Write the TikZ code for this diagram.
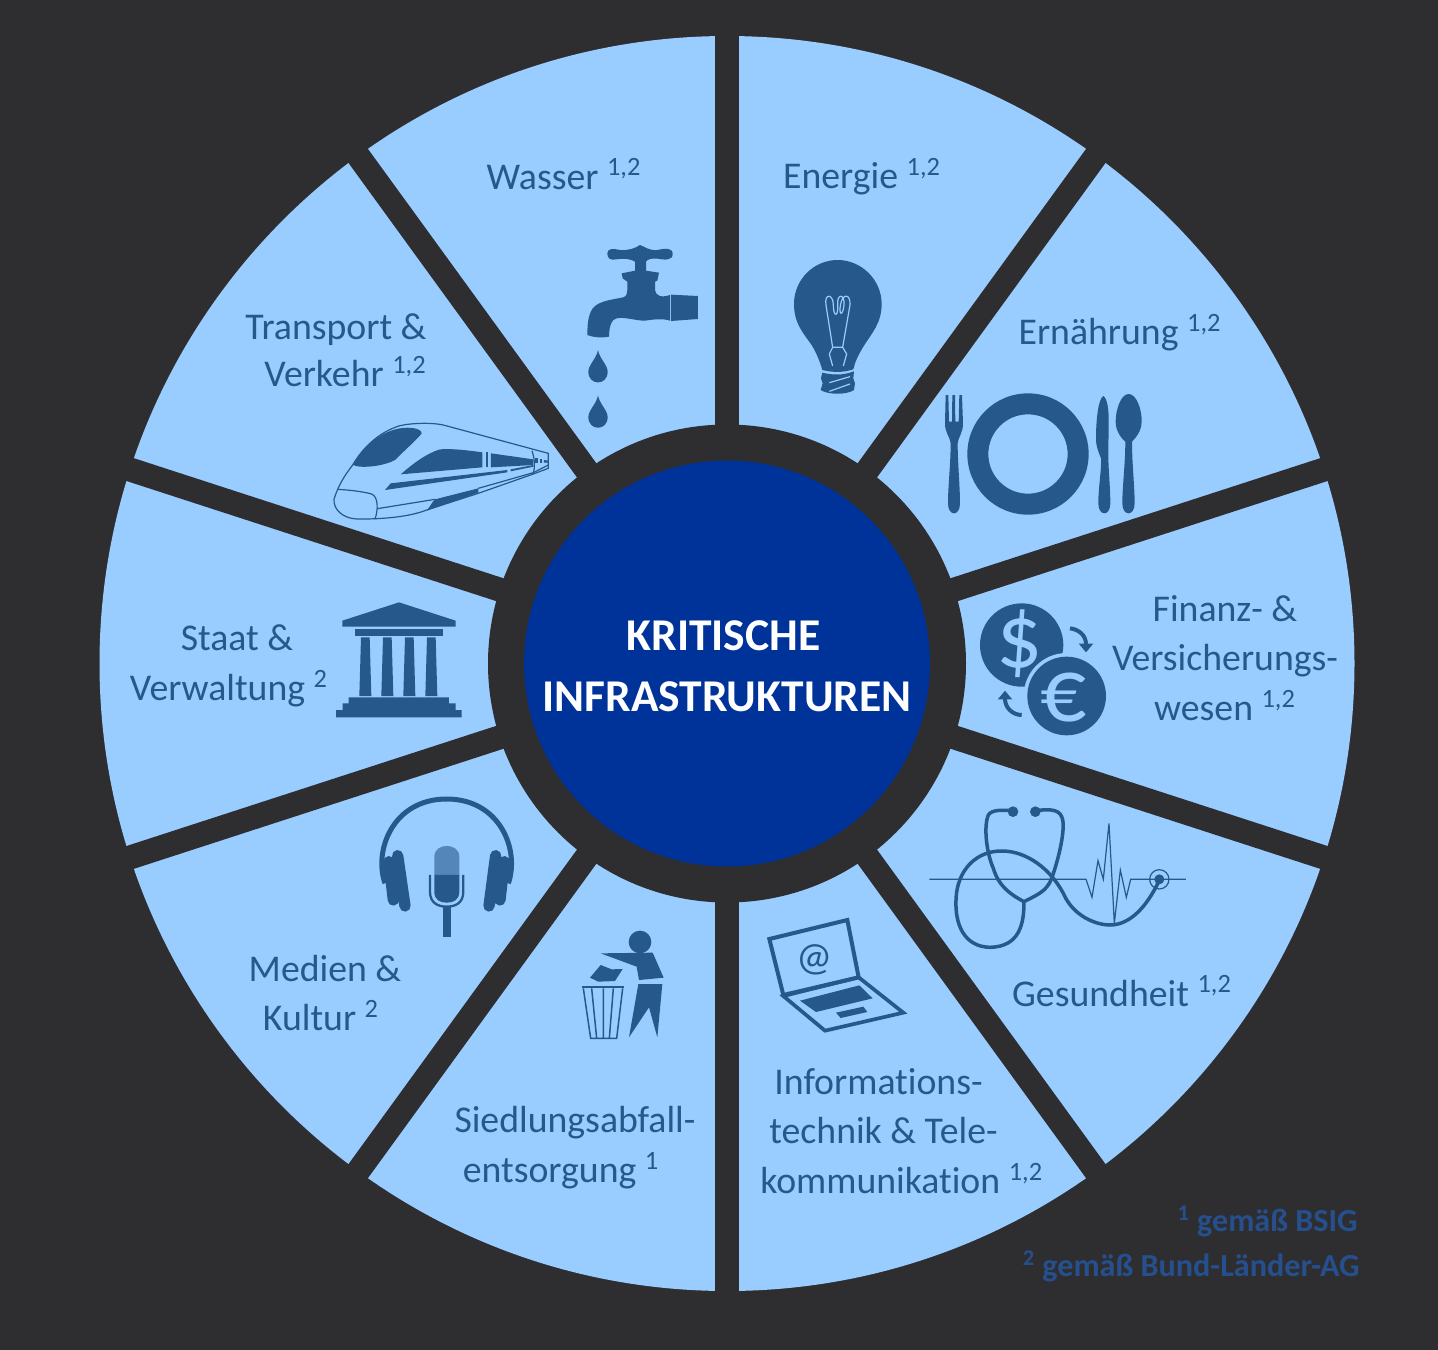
\documentclass[tikz,border=0pt]{standalone}
\usepackage{xcolor}
\usepackage{fontspec}
\setmainfont[Ligatures={TeX,NoCommon}]{Carlito}
\usepackage{tikz}
\usetikzlibrary{arrows.meta,positioning}

\definecolor{bgdark}{HTML}{2E2E30}
\definecolor{sectorblue}{HTML}{99CCFF}
\definecolor{icondark}{HTML}{26588C}
\definecolor{hubblue}{HTML}{003399}
\definecolor{notedark}{HTML}{264F8E}

\begin{document}
\begin{tikzpicture}[
      x=0.02cm, y=-0.02cm,
      spoke/.style={bgdark, line width=0.48cm},
      sector/.style={font=\fontsize{21.5}{28.35}\selectfont, text=icondark, align=center, inner sep=0pt},
      note/.style={font=\fontsize{18.3}{21}\selectfont\bfseries, text=notedark, inner sep=0pt},
      icon/.style={x=0.006667cm, y=-0.006667cm},
      solid ink/.style={fill=icondark},
      thin ink/.style={draw=icondark, line width=0.024cm},
      tube/.style={draw=icondark, line width=0.07cm, line cap=round},
      glint/.style={draw=sectorblue, line width=0.024cm}
    ]
    \fill[bgdark] (0,0) rectangle (1438,1350);
    \coordinate (centre) at (727,663.5);

    % disc and spokes
    \fill[sectorblue] (centre) circle[radius=627.5];
    \foreach \a in {90,54,18,-18,-54} {
      \draw[spoke] ([shift={(\a:645)}]centre) -- ([shift={(\a+180:645)}]centre);
    }
    \fill[bgdark] (centre) circle[radius=239];
    \node[circle, fill=hubblue, minimum size=8.12cm, inner sep=0pt] (hub) at (centre) {};
    \node[text=white, align=center, inner sep=0pt,
      font=\fontsize{25.9}{35}\selectfont\bfseries] (hubtext) at (727,666)
      {KRITISCHE\hspace*{0.14cm}\\INFRASTRUKTUREN};

    % labels
    \node[sector] (wasser) at (564,174) {Wasser \textsuperscript{1,2}};
    \node[sector] (energie) at (862,177) {Energie \textsuperscript{1,2}};
    \node[sector] (ernaehrung) at (1120,333) {Ernährung \textsuperscript{1,2}};
    \node[sector] (finanz) at (1225,658) {Finanz- \&\\Versicherungs-\\wesen \textsuperscript{1,2}};
    \node[sector] (gesundheit) at (1122,991) {Gesundheit \textsuperscript{1,2}};
    \node[sector, align=left, anchor=west] (it) at (760,1131) {\hspace*{0.28cm}Informations-\\\hspace*{0.18cm}technik \& Tele-\\kommunikation \textsuperscript{1,2}};
    \node[sector] (abfall) at (575,1148) {Siedlungsabfall-\\entsorgung \textsuperscript{1}\hspace*{0.56cm}};
    \node[sector] (medien) at (325,993) {Medien \&\\Kultur \textsuperscript{2}\hspace*{0.16cm}};
    \node[sector] (staat) at (229,666) {\hspace*{0.32cm}Staat \&\\Verwaltung \textsuperscript{2}};
    \node[sector, align=right] (transport) at (336,350) {Transport \&\\[-0.05cm]Verkehr \textsuperscript{1,2}};
    \node[note, anchor=east] (bsig) at (1358,1221) {\textsuperscript{1} gemäß BSIG};
    \node[note, anchor=east] (bund) at (1360,1266) {\textsuperscript{2} gemäß Bund-Länder-AG};

    % faucet and bulb
    \begin{scope}[shift={(570,230)}, icon]
      \fill[solid ink] (210,45) .. controls (225,50) and (235,62) .. (262,60) .. controls (285,55) and (308,52) .. (308,72)
        .. controls (308,92) and (285,90) .. (262,86) .. controls (245,84) and (232,88) .. (228,95) -- (228,122) -- (267,128)
        -- (262,152) -- (255,155) -- (255,180) .. controls (257,195) and (270,205) .. (300,195) -- (300,272)
        .. controls (280,265) and (250,268) .. (225,272) .. controls (195,272) and (165,260) .. (140,265)
        .. controls (125,268) and (118,285) .. (117,320) .. controls (95,325) and (70,322) .. (52,315)
        .. controls (52,280) and (55,245) .. (75,228) .. controls (95,212) and (130,208) .. (160,202)
        .. controls (170,198) and (172,190) .. (172,180) -- (172,155) -- (158,145) -- (155,130) -- (195,122) -- (195,95)
        .. controls (185,88) and (165,84) .. (140,88) .. controls (120,92) and (112,85) .. (112,70)
        .. controls (112,55) and (130,55) .. (150,60) .. controls (175,62) and (195,55) .. (210,45) -- cycle;
      \fill[solid ink] (303,194) -- (384,198) -- (384,267) -- (303,273) -- cycle;
      \foreach \d in {0,136} {
        \fill[solid ink] (84,360+\d) .. controls (80,385+\d) and (55,405+\d) .. (55,425+\d)
          .. controls (55,468+\d) and (113,468+\d) .. (113,425+\d) .. controls (113,405+\d) and (88,385+\d) .. (84,360+\d) -- cycle;
      }
      \fill[solid ink] (803,90) .. controls (875,90) and (935,150) .. (935,222) .. controls (935,280) and (905,310) .. (880,350)
        .. controls (865,375) and (855,395) .. (850,418) .. controls (820,428) and (790,428) .. (757,420)
        .. controls (750,395) and (740,370) .. (725,345) .. controls (700,310) and (672,280) .. (672,222)
        .. controls (672,150) and (730,90) .. (803,90) -- cycle;
      \fill[solid ink] (757,428) .. controls (790,436) and (820,436) .. (852,424) -- (850,445) -- (855,460) -- (852,480)
        .. controls (830,495) and (775,495) .. (752,480) -- (758,460) -- (753,445) -- cycle;
      \draw[glint] (778,458) -- (840,440) (778,484) -- (840,462);
      \draw[glint] (788,352) -- (768,225) .. controls (762,190) and (790,190) .. (790,225)
        .. controls (790,262) and (806,262) .. (803,225) .. controls (800,190) and (825,190) .. (822,225)
        .. controls (818,262) and (805,255) .. (812,222) .. controls (818,190) and (842,190) .. (840,225) -- (818,352);
      \draw[glint] (788,408) -- (778,372) -- (788,352) -- (818,352) -- (830,372) -- (820,408);
    \end{scope}

    % cutlery
    \begin{scope}[shift={(930,380)}, icon]
      \fill[solid ink, even odd rule] (294,222) circle[radius=182] (294,222) circle[radius=119];
      \fill[solid ink] (47,45) -- (55,45) -- (57,125) -- (66,125) -- (67,45) -- (75,45) -- (76,125) -- (86,125) -- (88,45) -- (96,45)
        -- (99,130) .. controls (99,160) and (85,170) .. (83,190) .. controls (83,250) and (90,320) .. (90,370)
        .. controls (90,410) and (54,410) .. (54,370) .. controls (54,320) and (62,250) .. (62,190)
        .. controls (60,170) and (45,160) .. (45,130) -- cycle;
      \fill[solid ink] (520,48) .. controls (532,55) and (537,90) .. (536,130) -- (535,225) .. controls (535,270) and (541,320) .. (541,370)
        .. controls (541,410) and (505,410) .. (505,370) .. controls (505,320) and (515,270) .. (513,235)
        .. controls (505,215) and (498,200) .. (498,175) .. controls (498,120) and (505,55) .. (520,48) -- cycle;
      \fill[solid ink] (596,42) .. controls (620,42) and (636,90) .. (635,125) .. controls (635,155) and (615,175) .. (606,185)
        .. controls (606,250) and (614,320) .. (614,370) .. controls (614,410) and (577,410) .. (577,370)
        .. controls (577,320) and (586,250) .. (586,185) .. controls (575,175) and (557,155) .. (557,125)
        .. controls (557,90) and (572,42) .. (596,42) -- cycle;
    \end{scope}

    % train
    \begin{scope}[shift={(320,410)}, icon]
      \draw[thin ink] (42,268) .. controls (55,225) and (75,195) .. (98,165) .. controls (130,110) and (180,65) .. (240,47)
        .. controls (280,38) and (340,38) .. (370,45) -- (685,130) -- (685,175) -- (640,192) -- (475,250) -- (320,300)
        .. controls (270,320) and (190,328) .. (110,327) .. controls (70,325) and (40,300) .. (42,268) -- cycle;
      \fill[solid ink] (98,165) .. controls (130,110) and (180,65) .. (240,55) .. controls (270,50) and (305,55) .. (305,70)
        .. controls (295,85) and (260,115) .. (225,150) .. controls (200,165) and (130,178) .. (98,165) -- cycle;
      \fill[solid ink] (242,193) .. controls (280,160) and (320,130) .. (360,118) .. controls (400,115) and (450,122) .. (487,127) -- (487,172) -- cycle;
      \fill[solid ink] (497,125) -- (505,125) -- (505,172) -- (497,172) -- cycle;
      \fill[solid ink] (513,130) -- (640,148) -- (640,165) -- (513,172) -- cycle;
      \fill[solid ink] (645,145) -- (655,145) -- (655,158) -- (645,158) -- cycle;
      \fill[solid ink] (660,148) -- (667,148) -- (667,158) -- (660,158) -- cycle;
      \fill[solid ink] (672,150) -- (685,152) -- (685,158) -- (672,158) -- cycle;
      \fill[solid ink] (212,220) -- (562,180) -- (562,187) -- (195,240) -- cycle;
      \fill[solid ink] (572,178) -- (640,165) -- (640,170) -- (572,184) -- cycle;
      \fill[solid ink] (345,268) -- (475,235) -- (475,248) -- (320,302) .. controls (330,290) and (335,278) .. (345,268) -- cycle;
      \draw[thin ink] (52,238) .. controls (90,240) and (130,245) .. (155,252) .. controls (175,260) and (175,300) .. (165,327);
      \draw[thin ink] (172,296) -- (345,268) (475,235) -- (640,188) -- (685,165);
      \draw[thin ink] (636,122) .. controls (645,150) and (645,170) .. (640,192);
    \end{scope}

    % money
    \begin{scope}[shift={(970,590)}, icon]
      \fill[solid ink] (155,165) circle[radius=125];
      \fill[sectorblue] (290,318) circle[radius=129];
      \fill[solid ink] (290,318) circle[radius=118];
      \node[text=sectorblue, inner sep=0pt, font=\fontsize{52}{52}\selectfont] (dollar) at (150,160) {\$};
      \node[text=sectorblue, inner sep=0pt, font=\fontsize{52}{52}\selectfont] (euro) at (282,322) {€};
      \draw[icondark, line width=0.08cm, -{Triangle[length=5pt, width=8pt]}] (300,115) .. controls (325,118) and (348,135) .. (348,187);
      \draw[icondark, line width=0.08cm, -{Triangle[length=5pt, width=8pt]}] (155,375) .. controls (130,375) and (105,355) .. (105,302);
    \end{scope}

    % stethoscope
    \begin{scope}[shift={(920,790)}, icon]
      \draw[thin ink] (28,268) -- (498,268) -- (516,322) -- (534,212) -- (550,268) -- (567,100) -- (583,400) -- (601,240) -- (619,322) -- (632,268) -- (798,268);
      \fill[solid ink] (279,65) circle[radius=16] (346,65) circle[radius=16];
      \draw[tube] (279,62) .. controls (250,60) and (215,58) .. (205,75) .. controls (190,110) and (200,190) .. (220,235)
        .. controls (235,285) and (265,310) .. (312,335) .. controls (350,315) and (380,305) .. (395,265)
        .. controls (415,210) and (440,110) .. (425,80) .. controls (415,55) and (380,58) .. (346,62);
      \draw[tube] (312,335) .. controls (312,400) and (300,470) .. (210,472) .. controls (130,470) and (105,400) .. (108,330)
        .. controls (110,240) and (170,180) .. (250,183) .. controls (320,185) and (390,235) .. (430,310)
        .. controls (460,380) and (530,405) .. (570,405) .. controls (630,405) and (680,350) .. (716,275);
      \draw[thin ink] (718,268) circle[radius=29];
      \fill[solid ink] (718,268) circle[radius=15];
    \end{scope}

    % bin and laptop
    \begin{scope}[shift={(570,910)}, icon]
      \fill[solid ink] (210,96) circle[radius=34];
      \fill[solid ink] (92,130) -- (248,128) -- (281,203) -- (207,210) -- (200,170) -- cycle;
      \fill[solid ink] (205,222) -- (277,222) -- (262,382) -- (237,292) -- (177,382) -- cycle;
      \fill[solid ink] (60,203) -- (92,165) -- (125,178) -- (158,177) -- (135,213) -- (85,215) -- cycle;
      \draw[icondark, line width=0.034cm] (35,232) -- (162,232);
      \draw[icondark, line width=0.03cm] (40,235) -- (62,385) -- (140,385) -- (158,235)
        (65,235) -- (80,385) (100,235) -- (100,385) (130,235) -- (118,385);
      \draw[icondark, line width=0.08cm] (598,87) -- (832,30) -- (866,202) -- (640,255) -- cycle;
      \draw[icondark, line width=0.074cm] (640,258) -- (866,202) -- (1000,308) -- (765,362) -- cycle;
      \fill[solid ink] (690,272) -- (868,226) -- (908,265) -- (738,306) -- cycle;
      \fill[solid ink] (798,308) -- (880,290) -- (892,306) -- (812,324) -- cycle;
      \node[text=icondark, inner sep=0pt, font=\fontsize{23}{23}\selectfont] (atsign) at (733,148) {@};
    \end{scope}

    % temple and headphones
    \begin{scope}[shift={(330,590)}, icon]
      \fill[solid ink] (37,92) -- (207,37) -- (377,92) -- (377,110) -- (37,110) -- cycle;
      \fill[solid ink] (75,117) rectangle (338,137);
      \foreach \c in {106,172,238,304} {
        \fill[solid ink] (\c-13,142) -- (\c+13,142) -- (\c+18,318) -- (\c-18,318) -- cycle;
      }
      \fill[solid ink] (56,322) -- (357,322) -- (357,340) -- (377,340) -- (377,360) -- (395,360) -- (395,382)
        -- (18,382) -- (18,360) -- (38,360) -- (38,340) -- (56,340) -- cycle;
      \draw[icondark, line width=0.1cm] (165,880) .. controls (130,780) and (190,627) .. (350,627)
        .. controls (510,627) and (570,780) .. (535,880);
      \draw[icondark, line width=0.226cm, line cap=round] (203,797) -- (225,948) (177,815) -- (190,930)
        (497,797) -- (477,948) (523,815) -- (510,930);
      \fill[icondark!60!sectorblue] (313,855) -- (313,800) .. controls (313,757) and (388,757) .. (388,800) -- (388,855) -- cycle;
      \fill[solid ink] (313,855) -- (388,855) -- (388,905) .. controls (388,930) and (370,938) .. (350,938)
        .. controls (330,938) and (313,930) .. (313,905) -- cycle;
      \draw[icondark, line width=0.046cm] (300,855) -- (300,905) .. controls (300,940) and (325,950) .. (350,950)
        .. controls (375,950) and (400,940) .. (400,905) -- (400,855);
      \fill[solid ink] (338,950) rectangle (362,1040);
    \end{scope}
  \end{tikzpicture}
\end{document}
